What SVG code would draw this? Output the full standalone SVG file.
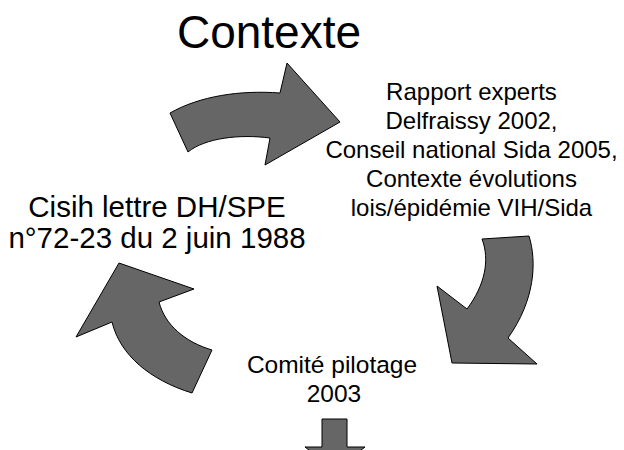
<svg xmlns="http://www.w3.org/2000/svg" width="624" height="450" viewBox="0 0 624 450">
<style>
.arr{fill:#666666;stroke:#000000;stroke-width:1;stroke-linejoin:miter}
text{font-family:"Liberation Sans",Arial,sans-serif;fill:#000000;text-anchor:middle}
</style>
<rect width="624" height="450" fill="#ffffff"/>
<g id="title"><text x="269" y="48" font-size="46">Contexte</text></g>
<g id="node-cisih"><text x="157" y="217" font-size="29.5">Cisih lettre DH/SPE</text><text x="157" y="248" font-size="29.5">n°72-23 du 2 juin 1988</text></g>
<g id="node-rapport" font-size="24"><text x="471.5" y="100">Rapport experts</text><text x="471.5" y="129">Delfraissy 2002,</text><text x="471.5" y="158">Conseil national Sida 2005,</text><text x="471.5" y="187">Contexte évolutions</text><text x="471.5" y="216">lois/épidémie VIH/Sida</text></g>
<g id="node-comite" font-size="24.5"><text x="332" y="373">Comité pilotage</text><text x="334" y="402">2003</text></g>
<g id="connectors">
<path class="arr" d="M170,113 C200,96 240,90 280,93 L287,63 L340,122 L265,165 L270,138 C240,134 205,138 188,152 Z"/>
<path class="arr" d="M482,239 L529,236 C537,262 535,300 508,338 L537,364 L452,363 L437,286 L467,309 C485,285 490,260 482,239 Z"/>
<path class="arr" d="M119,263 L194,289 L159,302 C165,325 185,342 212,350 L192,393 C150,380 120,355 112,322 L76,337 Z"/>
<path class="arr" d="M322,419 L347,419 L347,447 L365,447 L335,470 L305,447 L322,447 Z"/>
</g>
</svg>
